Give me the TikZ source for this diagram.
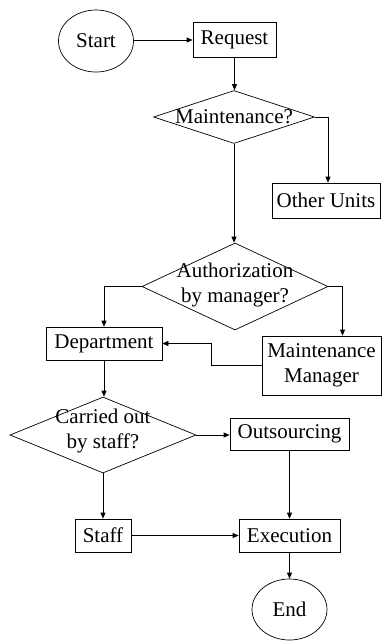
\documentclass[tikz,border=0pt]{standalone}
\usepackage{fontspec}
\setmainfont{Liberation Serif}
\usetikzlibrary{shapes.geometric,arrows.meta,calc}
\begin{document}
\begin{tikzpicture}[x=1pt,y=-1pt,
  every node/.style={font=\fontsize{21}{25}\selectfont, inner sep=0pt, align=center},
  boxnode/.style={draw, rectangle, line width=0.7pt},
  ovalnode/.style={draw, ellipse, line width=0.7pt, minimum width=75pt, minimum height=62pt},
  dianode/.style={draw, diamond, line width=0.7pt},
  conn/.style={line width=0.7pt, -{Triangle[length=6pt,width=5pt]}}
]
\useasboundingbox (0,0) rectangle (382,641);
\node[ovalnode] (start) at (96,41) {Start};
\node[boxnode, minimum width=83pt, minimum height=35pt] (req) at (234.5,40) {Request};
\node[dianode, minimum width=161pt, minimum height=53pt] (d1) at (234,117) {};
\node at (d1) {Maintenance?};
\node[boxnode, minimum width=108pt, minimum height=35pt] (other) at (326,200.5) {Other Units};
\node[dianode, minimum width=186pt, minimum height=87pt] (d2) at (235,286.5) {};
\node at ([yshift=2pt]d2) {Authorization\\by manager?};
\node[boxnode, minimum width=116pt, minimum height=33pt] (dept) at (104,343.5) {Department};
\node[boxnode, minimum width=119pt, minimum height=59pt] (mm) at (321.5,365.5) {Maintenance\\Manager};
\node[dianode, minimum width=186pt, minimum height=76pt] (d3) at (103,435) {};
\node at ([yshift=4pt]d3) {Carried out\\by staff?};
\node[boxnode, minimum width=119pt, minimum height=32pt] (out) at (289.5,434) {Outsourcing};
\node[boxnode, minimum width=56pt, minimum height=33pt] (staff) at (103,535.5) {Staff};
\node[boxnode, minimum width=101pt, minimum height=33pt] (exe) at (289.5,535.5) {Execution};
\node[ovalnode, minimum height=61pt] (end) at (289.5,609.5) {End};

\draw[conn] (start.east |- req.west) -- (req.west);
\draw[conn] (req.south) -- (req.south |- d1.north);
\draw[conn] (d1.east) -| ([xshift=2pt]other.north);
\draw[conn] (d1.south) -- (d1.south |- d2.north);
\draw[conn] (d2.west) -| (dept.north);
\draw[conn] (d2.east) -| ([xshift=21pt]mm.north);
\draw[conn] (mm.west) -- ++(-50,0) |- (dept.east);
\draw[conn] (dept.south) -- (dept.south |- d3.north);
\draw[conn] (d3.east) -- (d3.east -| out.west);
\draw[conn] (d3.south) -- (d3.south |- staff.north);
\draw[conn] (out.south) -- (exe.north);
\draw[conn] (staff.east) -- (exe.west);
\draw[conn] (exe.south) -- (end.north);
\end{tikzpicture}
\end{document}
